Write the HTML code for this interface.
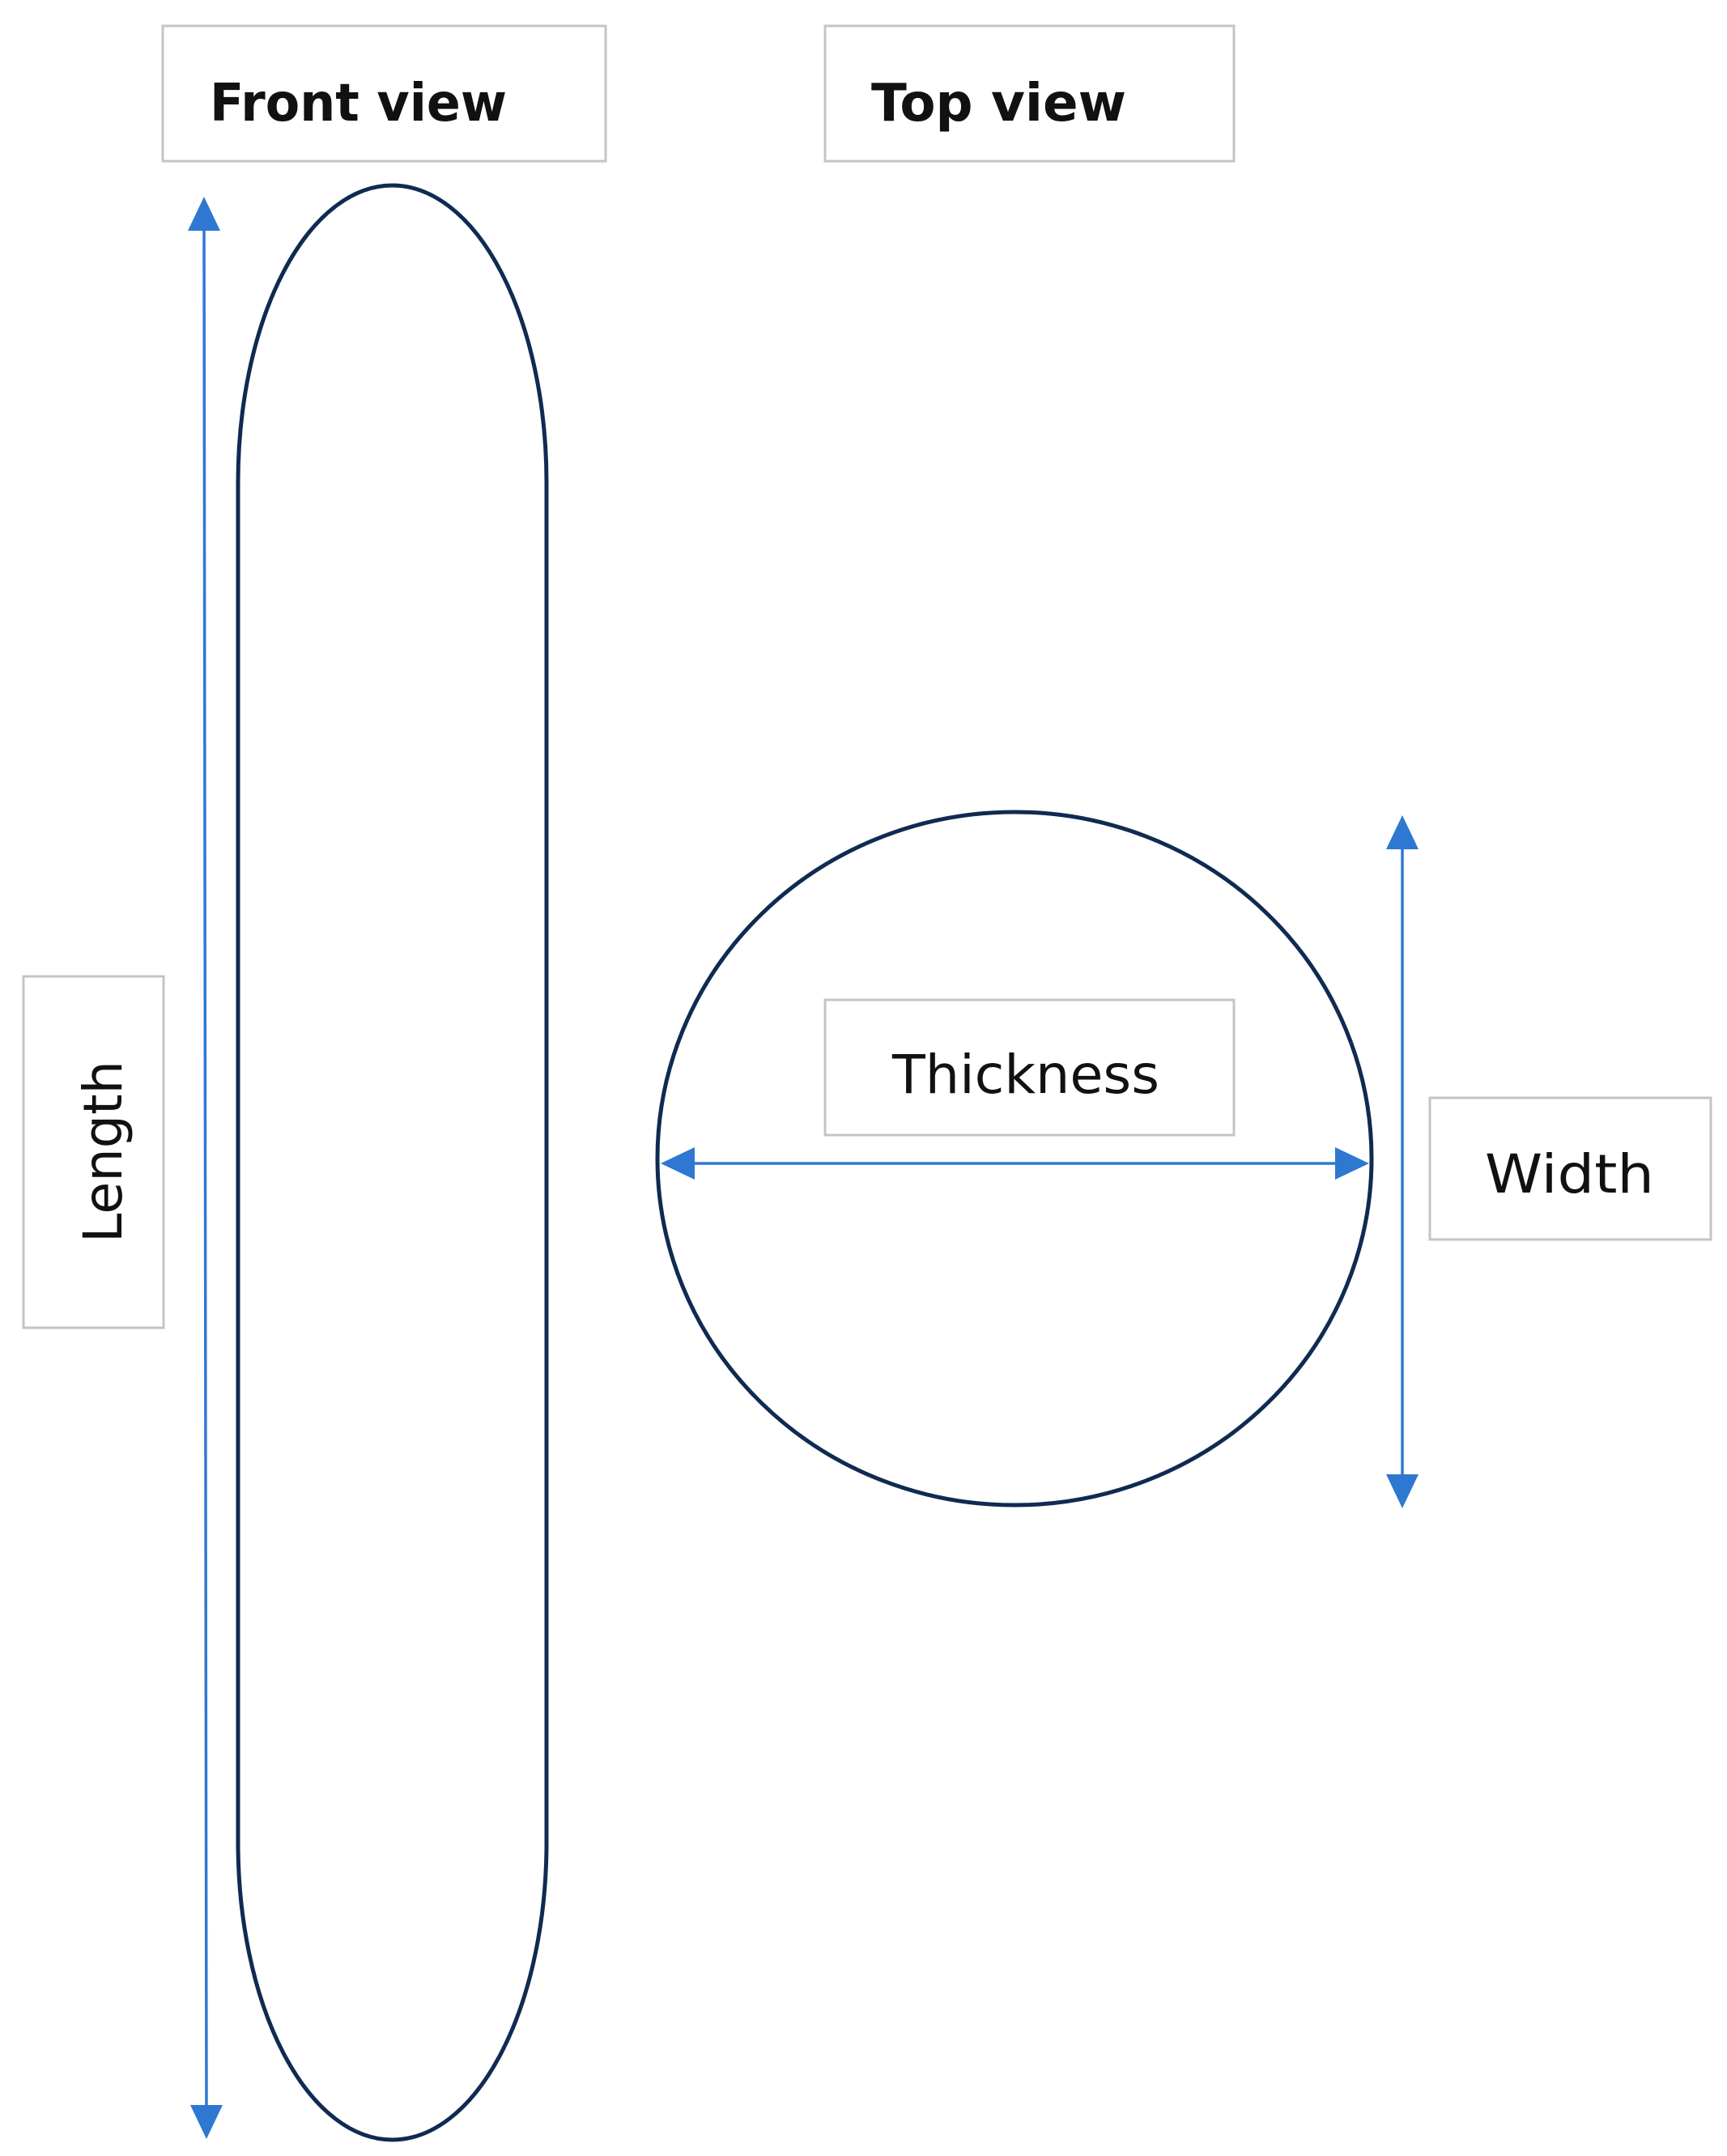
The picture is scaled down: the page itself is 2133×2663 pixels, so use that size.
<!DOCTYPE html>
<html><head><meta charset="utf-8"><style>
html,body{margin:0;padding:0;background:#fff;}
svg{display:block;}
text{font-family:"DejaVu Sans","Liberation Sans",sans-serif;fill:#111;}
</style></head><body>
<svg width="2133" height="2663" viewBox="0 0 2133 2663" xmlns="http://www.w3.org/2000/svg">
<g fill="#fff" stroke="#c4c4c4" stroke-width="3">
<rect x="201" y="32" width="547" height="167"/>
<rect x="1019" y="32" width="505" height="167"/>
<rect x="29" y="1206" width="173" height="434"/>
<rect x="1019" y="1235" width="505" height="167"/>
<rect x="1766" y="1356" width="347" height="175"/>
</g>
<text x="259" y="149" font-size="64" font-weight="bold" textLength="367" lengthAdjust="spacingAndGlyphs">Front view</text>
<text x="1076" y="149" font-size="64" font-weight="bold" textLength="315" lengthAdjust="spacingAndGlyphs">Top view</text>
<text x="1102" y="1350" font-size="66" textLength="330" lengthAdjust="spacingAndGlyphs">Thickness</text>
<text x="1834" y="1473" font-size="66" textLength="209" lengthAdjust="spacingAndGlyphs">Width</text>
<text transform="translate(150,1535) rotate(-90)" font-size="66" textLength="225" lengthAdjust="spacingAndGlyphs">Length</text>
<path d="M294,596 A190,366 0 0 1 675,596 L675,2276 A190,366 0 0 1 294,2276 Z" fill="none" stroke="#0f2b52" stroke-width="5"/>
<ellipse cx="1253" cy="1431" rx="441" ry="428" fill="none" stroke="#0f2b52" stroke-width="5"/>
<g stroke="#2e78d2" stroke-width="3.5" fill="#2e78d2">
<line x1="252" y1="270" x2="255" y2="2615"/>
<polygon points="252,243 232,285 272,285" stroke="none"/>
<polygon points="255,2642 235,2600 275,2600" stroke="none"/>
<line x1="845" y1="1437" x2="1662" y2="1437"/>
<polygon points="816,1437 858,1417 858,1457" stroke="none"/>
<polygon points="1691,1437 1649,1417 1649,1457" stroke="none"/>
<line x1="1732" y1="1035" x2="1732" y2="1835"/>
<polygon points="1732,1007 1712,1049 1752,1049" stroke="none"/>
<polygon points="1732,1863 1712,1821 1752,1821" stroke="none"/>
</g>
</svg>
</body></html>
